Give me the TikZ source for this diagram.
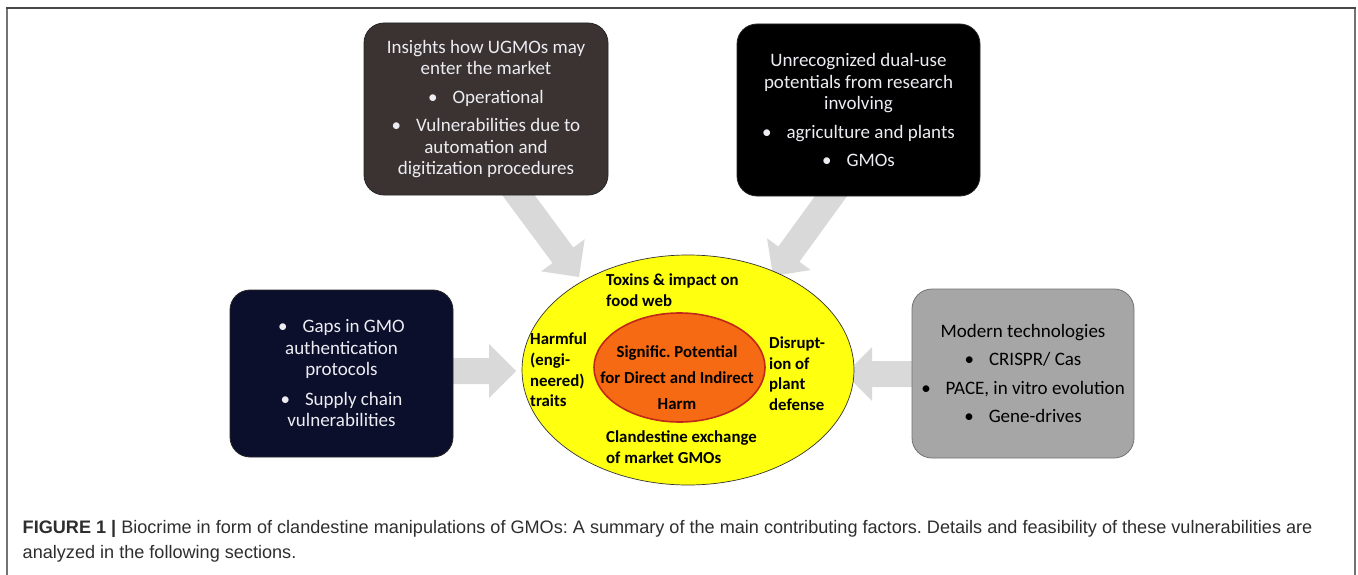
\documentclass[tikz,border=0pt]{standalone}
\usepackage{fontspec}
\setmainfont{Carlito}
\newfontfamily\capfont{Liberation Sans}
\usetikzlibrary{shapes.geometric}
\definecolor{arrowgray}{HTML}{D9D9D9}
\definecolor{warmdark}{HTML}{3A3331}
\definecolor{navydark}{HTML}{0B0F2B}
\definecolor{midgray}{HTML}{A6A6A6}
\definecolor{boxtext}{HTML}{ECECF2}
\definecolor{harmorange}{HTML}{F56A12}
\definecolor{harmred}{HTML}{C0281C}
\definecolor{brightyellow}{HTML}{FFFF10}
\newcommand{\bul}{\textbullet\hspace{15pt}}
\frenchspacing
\begin{document}
\begin{tikzpicture}[x=1pt,y=-1pt,
  factor/.style={draw=black!85, line width=0.8pt, rounded corners=20pt,
    align=center, inner sep=0pt, font=\fontsize{19}{21.5}\selectfont},
  harmtext/.style={inner sep=0pt, align=left, font=\bfseries\fontsize{16.8}{20.6}\selectfont},
  pics/blockarrow/.style={code={
    \fill[arrowgray] (0,0) -- (-27,27) -- (-27,13) -- (-165,13) -- (-165,-13)
      -- (-27,-13) -- (-27,-27) -- cycle;}},
  captext/.style={inner sep=0pt, anchor=base west, text=black!82,
    font=\capfont\fontsize{18.1}{20}\selectfont}
]
\useasboundingbox (0,0) rectangle (1358,575);
\fill[white] (0,0) rectangle (1358,575);

% figure frame, open at the bottom
\draw[line width=2pt, black!55] (7,575) -- (7,8);
\draw[line width=2pt, black!55] (1355,575) -- (1355,8);
\draw[line width=2pt, black!72] (6,8) -- (1356,8);

% tips of the block arrows
\coordinate (tlTip) at (579,277);
\coordinate (trTip) at (773,276);
\coordinate (lTip) at (516,371);
\coordinate (rTip) at (845,374);

\pic[rotate=-53.5] at (tlTip) {blockarrow};
\pic[rotate=-126] at (trTip) {blockarrow};
\pic at (lTip) {blockarrow};
\pic[rotate=180] at (rTip) {blockarrow};

% contributing factors
\node[factor, fill=warmdark, text=boxtext, minimum width=244pt, minimum height=172pt]
  (insights) at (486,109)
  {Insights how UGMOs may\\enter the market\\[7pt]
   \bul Operational\\[7pt]
   \bul Vulnerabilities due to\\automation and\\digitization procedures};

\node[factor, fill=black, text=boxtext, minimum width=243pt, minimum height=172pt]
  (dualuse) at (858.5,110)
  {Unrecognized dual-use\\potentials from research\\involving\\[7pt]
   \bul agriculture and plants\\[7pt]
   \bul GMOs};

\node[factor, fill=navydark, text=boxtext, minimum width=223pt, minimum height=167pt]
  (gaps) at (341.5,373.5)
  {\bul Gaps in GMO\\authentication\\protocols\\[8pt]
   \bul Supply chain\\vulnerabilities};

\node[factor, fill=midgray, draw=black!55, text=black, minimum width=222pt, minimum height=169pt]
  (modern) at (1023,373.5)
  {Modern technologies\\[7pt]
   \bul CRISPR/ Cas\\[7pt]
   \bul PACE, in vitro evolution\\[7pt]
   \bul Gene-drives};

% harm ellipses
\node[ellipse, draw=black!80, line width=0.7pt, fill=brightyellow,
  minimum width=332pt, minimum height=230pt, inner sep=0pt] (outer) at (688,370) {};
\node[ellipse, draw=harmred, line width=1.6pt, fill=harmorange,
  minimum width=171pt, minimum height=109pt, inner sep=0pt] (inner) at (679.5,367.5) {};

\node[harmtext, align=center, font=\bfseries\fontsize{16.8}{26}\selectfont] (core) at (677,378)
  {Signific. Potential\\for Direct and Indirect\\Harm};
\node[harmtext, anchor=west] (toxins) at (606,290) {Toxins \& impact on\\food web};
\node[harmtext, anchor=west] (traits) at (530,370) {Harmful\\(engi-\\neered)\\traits};
\node[harmtext, anchor=west] (disrupt) at (769,373.5) {Disrupt-\\ion of\\plant\\defense};
\node[harmtext, anchor=west] (exchange) at (606,447) {Clandestine exchange\\of market GMOs};

% caption
\node[captext] (cap1) at (22.5,533.5) {\textbf{FIGURE 1 |} Biocrime in form of clandestine manipulations of GMOs: A summary of the main contributing factors. Details and feasibility of these vulnerabilities are};
\node[captext] (cap2) at (22.5,558) {analyzed in the following sections.};
\end{tikzpicture}
\end{document}
